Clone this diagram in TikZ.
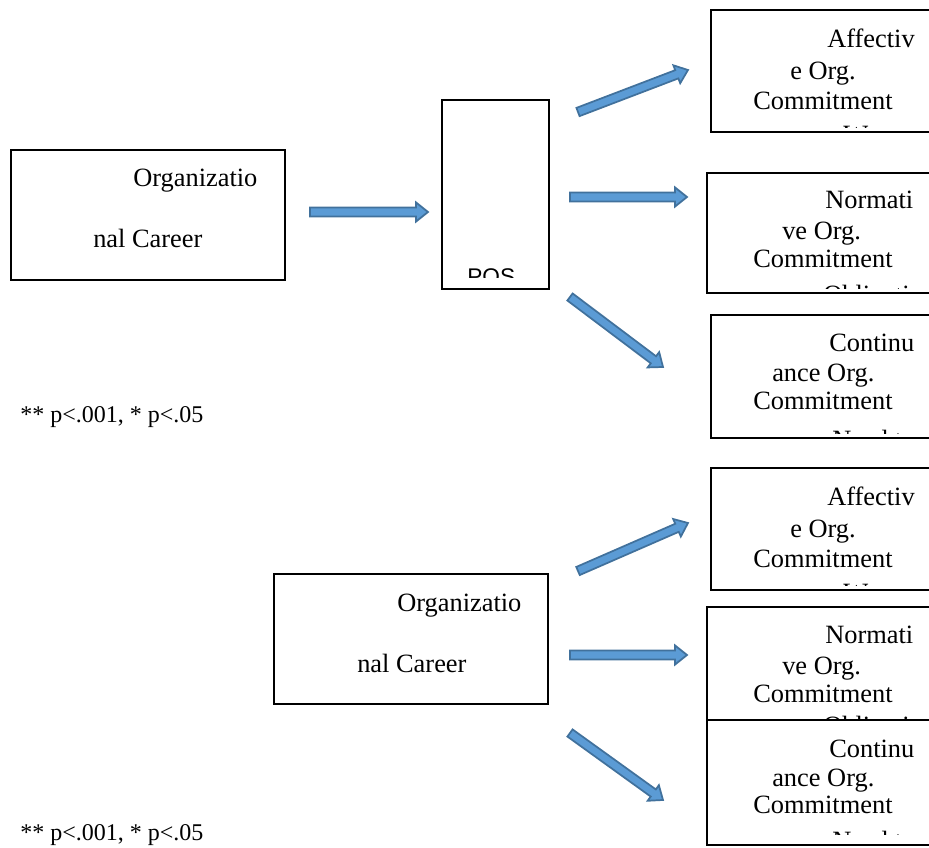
\documentclass[tikz,border=0pt]{standalone}
\usepackage{fontspec}
\setmainfont{Liberation Serif}
\newfontfamily\arialfont{Liberation Sans}
\usetikzlibrary{calc,fit}
\definecolor{arrowfill}{HTML}{5B9BD5}
\definecolor{arrowline}{HTML}{41719C}
% block arrow from named coordinate #1 to named coordinate #2
\newcommand\blockarr[2]{%
  \coordinate (hb) at ($(#2)!9pt!(#1)$);
  \draw[barrow] ($(#1)!3.3pt!-90:(#2)$) -- ($(hb)!3.3pt!-90:(#2)$) -- ($(hb)!7.2pt!-90:(#2)$) -- (#2)
     -- ($(hb)!7.2pt!90:(#2)$) -- ($(hb)!3.3pt!90:(#2)$) -- ($(#1)!3.3pt!90:(#2)$) -- cycle;}
\begin{document}
\begin{tikzpicture}[x=0.75pt,y=-0.75pt,
  box/.style={draw=black, line width=1.3pt, fill=white, inner sep=0pt},
  txt/.style={anchor=base west, inner sep=0pt, font=\fontsize{19.8}{24}\selectfont},
  note/.style={anchor=base west, inner sep=0pt, font=\fontsize{18}{22}\selectfont},
  barrow/.style={draw=arrowline, fill=arrowfill, line width=1.3pt, line join=miter}]
\useasboundingbox (0,0) rectangle (929,848);
\clip (0,0) rectangle (929,848);

% ---------------- upper model ----------------
\node[box, fit={(11,150) (285,280)}] (org1) {};
\node[txt] (org1a) at (133,187) {Organizatio};
\node[txt] (org1b) at (93,248) {nal Career};

\node[box, fit={(442,100) (549,289)}] (pos) {};
\begin{scope}
  \clip (443,101) rectangle (548,278);
  \node[anchor=base west, inner sep=0pt, font=\arialfont\fontsize{17}{20}\selectfont] (posl) at (467,285) {POS};
\end{scope}

\node[box, fit={(711,10) (945,132)}] (aff1) {};
\node[txt] (aff1a) at (827,48) {Affectiv};
\node[txt] (aff1b) at (790,80) {e Org.};
\node[txt] (aff1c) at (753,110) {Commitment};
\begin{scope}
  \clip (712,11) rectangle (944,128);
  \node[txt] (aff1d) at (843,144) {Want to};
\end{scope}

\node[box, fit={(707,173) (945,293)}] (nor1) {};
\node[txt] (nor1a) at (825,209) {Normati};
\node[txt] (nor1b) at (782,240) {ve Org.};
\node[txt] (nor1c) at (753,268) {Commitment};
\begin{scope}
  \clip (708,174) rectangle (944,289);
  \node[txt] (nor1d) at (823,304) {Obligation};
\end{scope}

\node[box, fit={(711,315) (945,438)}] (con1) {};
\node[txt] (con1a) at (829,352) {Continu};
\node[txt] (con1b) at (772,382) {ance Org.};
\node[txt] (con1c) at (753,410) {Commitment};
\begin{scope}
  \clip (712,316) rectangle (944,434);
  \node[txt] (con1d) at (832,449) {Need to};
\end{scope}

\node[note] (p1) at (20,423) {** p<.001, * p<.05};

\coordinate (a0s) at (310,212); \coordinate (a0e) at (428,212);
\coordinate (a1s) at (578,112); \coordinate (a1e) at (688,70);
\coordinate (a2s) at (570,197); \coordinate (a2e) at (687,197);
\coordinate (a3s) at (570,297); \coordinate (a3e) at (663,367);
\blockarr{a0s}{a0e}
\blockarr{a1s}{a1e}
\blockarr{a2s}{a2e}
\blockarr{a3s}{a3e}

% ---------------- lower model ----------------
\node[box, fit={(274,574) (548,704)}] (org2) {};
\node[txt] (org2a) at (397,612) {Organizatio};
\node[txt] (org2b) at (357,672) {nal Career};

\node[box, fit={(711,468) (945,590)}] (aff2) {};
\node[txt] (aff2a) at (827,506) {Affectiv};
\node[txt] (aff2b) at (790,538) {e Org.};
\node[txt] (aff2c) at (753,568) {Commitment};
\begin{scope}
  \clip (712,469) rectangle (944,586);
  \node[txt] (aff2d) at (843,602) {Want to};
\end{scope}

\node[box, fit={(707,607) (945,721)}] (nor2) {};
\node[txt] (nor2a) at (825,643) {Normati};
\node[txt] (nor2b) at (782,674) {ve Org.};
\node[txt] (nor2c) at (753,702) {Commitment};
\begin{scope}
  \clip (708,608) rectangle (944,719);
  \node[txt] (nor2d) at (823,734) {Obligation};
\end{scope}

\node[box, fit={(707,720) (945,845)}] (con2) {};
\node[txt] (con2a) at (829,757) {Continu};
\node[txt] (con2b) at (772,786) {ance Org.};
\node[txt] (con2c) at (753,813) {Commitment};
\begin{scope}
  \clip (708,721) rectangle (944,834);
  \node[txt] (con2d) at (832,849) {Need to};
\end{scope}

\node[note] (p2) at (20,840) {** p<.001, * p<.05};

\coordinate (b1s) at (578,571); \coordinate (b1e) at (688,523);
\coordinate (b2s) at (570,655); \coordinate (b2e) at (687,655);
\coordinate (b3s) at (570,733); \coordinate (b3e) at (663,800);
\blockarr{b1s}{b1e}
\blockarr{b2s}{b2e}
\blockarr{b3s}{b3e}
\end{tikzpicture}
\end{document}
